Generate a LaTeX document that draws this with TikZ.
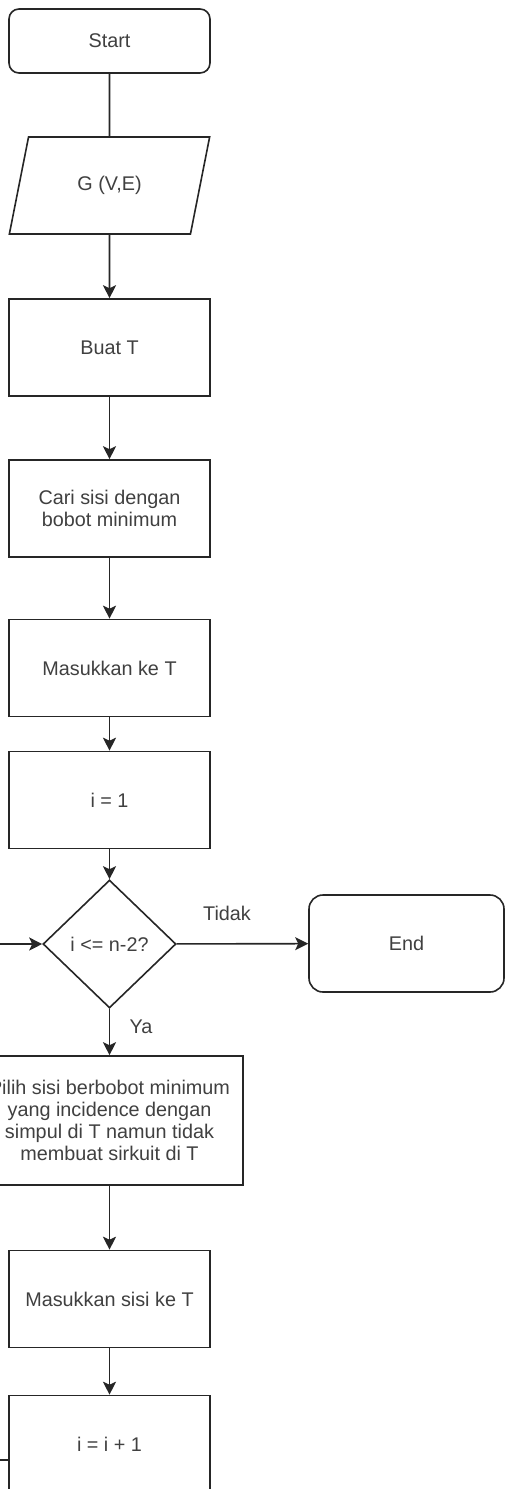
\documentclass[tikz,border=0pt]{standalone}
\usepackage{fontspec}
\setmainfont{Liberation Sans}
\usetikzlibrary{shapes.geometric,arrows.meta}
\begin{document}
\begin{tikzpicture}[x=0.5pt,y=-0.5pt,
  every node/.style={font=\fontsize{9.9}{11}\selectfont, text=black!75},
  base/.style={draw=black!85, line width=0.8pt, fill=white, align=center, inner sep=0pt},
  procbox/.style={base, rectangle, minimum width=100.5pt, minimum height=48.5pt},
  termbox/.style={base, rectangle, rounded corners=5pt, minimum width=100.5pt, minimum height=32pt},
  iobox/.style={base, trapezium, trapezium left angle=67.6, trapezium right angle=112.4,
    trapezium stretches=true, minimum width=100.5pt, minimum height=48.5pt},
  decbox/.style={base, diamond, minimum width=66.5pt, minimum height=64pt},
  conn/.style={draw=black!85, line width=0.8pt},
  arr/.style={conn, -{Stealth[length=6.5pt,width=6.5pt,inset=1.5pt]}},
  lbl/.style={inner sep=0pt}]
\useasboundingbox (0,0) rectangle (505,1489);
\node[termbox] (start) at (109.5,41) {Start};
\node[iobox] (input) at (109.5,185.5) {G (V,E)};
\node[procbox] (buat) at (109.5,347.5) {Buat T};
\node[procbox] (cari) at (109.5,508.5) {Cari sisi dengan\\bobot minimum};
\node[procbox] (masuk) at (109.5,668) {Masukkan ke T};
\node[procbox] (ione) at (109.5,800) {i = 1};
\node[decbox] (dec) at (109.5,944) {i <= n-2?};
\node[termbox, rounded corners=7pt, minimum width=97.5pt, minimum height=48.5pt] (end) at (406.5,943.5) {End};
\node[procbox, minimum width=133.5pt, minimum height=64.5pt] (pilih) at (109.5,1120.5) {Pilih sisi berbobot minimum\\yang incidence dengan\\simpul di T namun tidak\\membuat sirkuit di T};
\node[procbox] (masuk2) at (109.5,1299) {Masukkan sisi ke T};
\node[procbox] (inc) at (109.5,1444) {i = i + 1};
\coordinate (lp) at (9,1460);
\draw[conn] (start) -- (input);
\draw[arr] (input) -- (buat);
\draw[arr] (buat) -- (cari);
\draw[arr] (cari) -- (masuk);
\draw[arr] (masuk) -- (ione);
\draw[arr] (ione) -- (dec);
\draw[arr] (dec) -- (end);
\draw[arr] (dec) -- (pilih);
\draw[arr] (pilih) -- (masuk2);
\draw[arr] (masuk2) -- (inc);
\draw[arr] (lp) -- ++(-60,0) |- (dec.west);
\node[lbl] (tidak) at (227,913) {Tidak};
\node[lbl] (ya) at (141,1027) {Ya};
\end{tikzpicture}
\end{document}
